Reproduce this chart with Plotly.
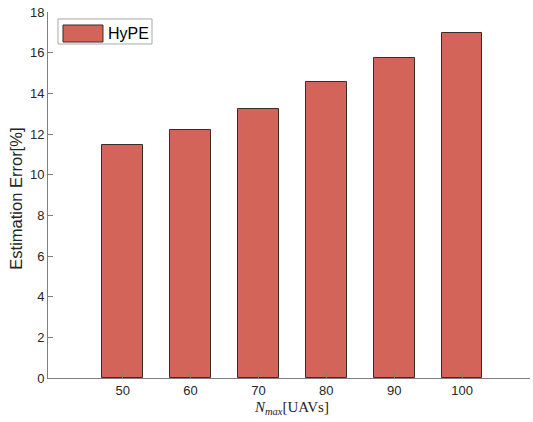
import plotly.graph_objects as go

categories = [50, 60, 70, 80, 90, 100]
hype_error = [11.48, 12.18, 13.24, 14.55, 15.75, 16.95]
y_ticks = [0, 2, 4, 6, 8, 10, 12, 14, 16, 18]
series_name = "HyPE"

bar_fill = "#d3645a"
bar_edge = "#3d2b29"
axis_col = "#7f7f7f"
text_col = "#262626"

fig = go.Figure()
fig.add_trace(go.Bar(
    x=categories, y=hype_error, name=series_name, width=6,
    marker=dict(color=bar_fill, line=dict(color=bar_edge, width=1)),
    showlegend=False,
))

# legend box (drawn manually to match the reference's large swatch)
fig.add_shape(type="rect", xref="paper", yref="paper",
              x0=0.0207, x1=0.2158, y0=0.9126, y1=0.981,
              line=dict(color="#a8a8a8", width=1), fillcolor="white", layer="above")
fig.add_shape(type="rect", xref="paper", yref="paper",
              x0=0.0311, x1=0.1141, y0=0.918, y1=0.9645,
              line=dict(color=bar_edge, width=1), fillcolor=bar_fill, layer="above")
fig.add_annotation(xref="paper", yref="paper", x=0.1203, y=0.9413,
                   text=series_name, showarrow=False, xanchor="left", yanchor="middle",
                   font=dict(family="Liberation Sans, Arial", size=16, color="black"))

# axis titles
fig.add_annotation(xref="paper", yref="paper", x=0.506, y=-0.082,
                   text="<i>N</i><sub><i>max</i></sub>[UAVs]", showarrow=False,
                   xanchor="center", yanchor="middle",
                   font=dict(family="Liberation Serif, DejaVu Serif, serif", size=15, color=text_col))
fig.add_annotation(xref="paper", yref="paper", x=-0.0664, y=0.49,
                   text="Estimation Error[%]", showarrow=False, textangle=-90,
                   xanchor="center", yanchor="middle",
                   font=dict(family="Liberation Sans, Arial", size=16.5, color=text_col))

fig.update_layout(
    width=533, height=422,
    margin=dict(l=48, r=3, t=12, b=44),
    paper_bgcolor="white", plot_bgcolor="white",
    font=dict(family="Liberation Sans, Arial", size=13, color=text_col),
    bargap=0,
)
fig.update_xaxes(
    range=[39, 110], tickvals=categories, ticktext=[str(c) for c in categories],
    showline=True, linecolor=axis_col, linewidth=1, showgrid=False, zeroline=False,
    ticks="inside", ticklen=5, tickcolor=axis_col, automargin=False,
    tickfont=dict(size=13, color=text_col),
)
fig.update_yaxes(
    range=[0, 18], tickvals=y_ticks,
    showline=True, linecolor=axis_col, linewidth=1, showgrid=False, zeroline=False,
    ticks="inside", ticklen=5, tickcolor=axis_col, automargin=False,
    tickfont=dict(size=13, color=text_col),
)

fig.write_html("out.html", config={"displayModeBar": False},
               post_script="document.body.style.margin='0';document.body.style.overflow='hidden';")
